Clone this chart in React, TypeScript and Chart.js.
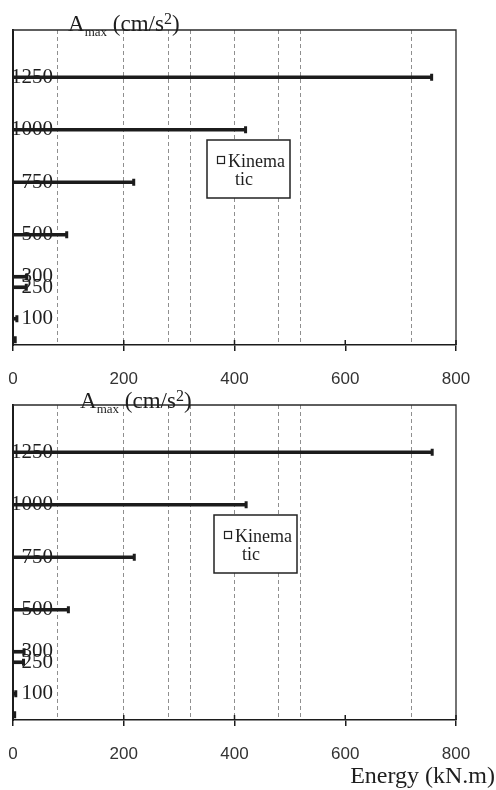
import React, { useEffect, useRef } from "react";
import { Chart, registerables } from "chart.js";

Chart.register(...registerables);

// ---- data ----
const amaxLevels = [1250, 1000, 750, 500, 300, 250, 100, 0];
const energyTop = [756, 420, 218, 97, 25, 24, 7, 4];
const energyBottom = [757, 421, 219, 100, 20, 19, 5, 3];
const amaxTickValues = [1250, 1000, 750, 500, 300, 250, 100];
const energyTickValues = [0, 200, 400, 600, 800];
const energyGuideValues = [80, 200, 280, 320, 400, 480, 520, 720];
const seriesLabel = "Kinematic";
const energyMin = 0;
const energyMax = 800;
const amaxMin = -25;
const amaxMax = 1475;

const INK = "#1c1c1c";

const framePlugin = {
  id: "frameCaps",
  afterDatasetsDraw(chart: any) {
    const { ctx, chartArea: a, scales } = chart;
    ctx.save();
    const meta = chart.getDatasetMeta(0);
    ctx.fillStyle = INK;
    meta.data.forEach((el: any) => {
      ctx.fillRect(el.x - 1.5, el.y - 3.5, 3, 7);
    });
    ctx.strokeStyle = "#2a2a2a";
    ctx.lineWidth = 1.3;
    ctx.beginPath();
    ctx.moveTo(a.left, a.top);
    ctx.lineTo(a.right, a.top);
    ctx.lineTo(a.right, a.bottom);
    ctx.stroke();
    const xs = scales.x;
    ctx.strokeStyle = INK;
    ctx.lineWidth = 1.5;
    xs.ticks.forEach((_t: any, i: number) => {
      const px = xs.getPixelForTick(i);
      ctx.beginPath();
      ctx.moveTo(px, a.bottom - 5);
      ctx.lineTo(px, a.bottom);
      ctx.stroke();
    });
    ctx.restore();
  },
};

const boxLegendPlugin = {
  id: "boxLegend",
  afterDraw(chart: any, _args: any, opts: any) {
    const { ctx, chartArea: a } = chart;
    const x = a.left + opts.dx;
    const y = a.top + opts.dy;
    ctx.save();
    ctx.fillStyle = "#ffffff";
    ctx.fillRect(x, y, opts.w, opts.h);
    ctx.strokeStyle = "#222";
    ctx.lineWidth = 1.5;
    ctx.strokeRect(x, y, opts.w, opts.h);
    ctx.lineWidth = 1.2;
    ctx.strokeRect(x + 10.5, y + 16.5, 7, 7);
    ctx.font = '18px "Liberation Serif"';
    ctx.fillStyle = "#1e1e1e";
    ctx.textBaseline = "alphabetic";
    const label: string = chart.data.datasets[0].label || "";
    const lines: string[] = [];
    let cur = "";
    for (const ch of label) {
      if (cur && ctx.measureText(cur + ch).width > opts.maxTextWidth) {
        lines.push(cur);
        cur = ch;
      } else cur += ch;
    }
    if (cur) lines.push(cur);
    lines.forEach((ln, i) => {
      ctx.fillText(ln, x + (i === 0 ? 21 : 28), y + 27 + i * 18);
    });
    ctx.restore();
  },
};

function makeConfig(values: number[], legendDx: number): any {
  return {
    type: "bar",
    data: {
      datasets: [
        {
          label: seriesLabel,
          data: amaxLevels.map((a, i) => ({ x: values[i], y: a })),
          backgroundColor: INK,
          borderWidth: 0,
          barThickness: 3,
          xAxisID: "x",
          yAxisID: "y",
        },
      ],
    },
    options: {
      responsive: false,
      animation: false,
      indexAxis: "y",
      layout: { padding: { left: 13, right: 40, top: 30, bottom: 0 } },
      plugins: {
        legend: { display: false },
        tooltip: { enabled: false },
        boxLegend: { dx: legendDx, dy: 110, w: 83, h: 58, maxTextWidth: 60 },
      },
      scales: {
        x: {
          type: "linear",
          axis: "x",
          position: "bottom",
          offset: false,
          min: energyMin,
          max: energyMax,
          afterBuildTicks: (s: any) => {
            s.ticks = energyTickValues.map((v) => ({ value: v }));
          },
          afterFit: (s: any) => {
            s.height = 50;
            s.paddingLeft = 0;
            s.paddingRight = 0;
          },
          grid: {
            offset: false,
            drawOnChartArea: false,
            drawTicks: true,
            tickLength: 6,
            color: INK,
            lineWidth: 1.5,
          },
          border: { display: true, color: INK, width: 1.5 },
          ticks: {
            padding: 18,
            autoSkip: false,
            maxRotation: 0,
            font: { family: "Liberation Sans", size: 17 },
            color: "#333",
            callback: (v: any) => String(v),
          },
        },
        xg: {
          type: "linear",
          axis: "x",
          position: "top",
          offset: false,
          min: energyMin,
          max: energyMax,
          afterBuildTicks: (s: any) => {
            s.ticks = energyGuideValues.map((v) => ({ value: v }));
          },
          afterFit: (s: any) => {
            s.height = 0;
            s.paddingLeft = 0;
            s.paddingRight = 0;
          },
          ticks: { display: false },
          grid: { offset: false, drawTicks: false, color: "#8f8f8f", lineWidth: 1 },
          border: { display: false, dash: [4, 3] },
        },
        y: {
          type: "linear",
          axis: "y",
          position: "left",
          offset: false,
          min: amaxMin,
          max: amaxMax,
          afterBuildTicks: (s: any) => {
            s.ticks = amaxTickValues.map((v) => ({ value: v }));
          },
          afterFit: (s: any) => {
            s.width = 0;
            s.paddingTop = 0;
            s.paddingBottom = 0;
          },
          grid: { offset: false, display: false, drawTicks: false },
          border: { display: true, color: INK, width: 2 },
          ticks: {
            mirror: true,
            crossAlign: "far",
            padding: -2,
            autoSkip: false,
            font: { family: "Liberation Serif", size: 21 },
            color: "#1e1e1e",
            callback: (v: any) => String(v),
          },
        },
      },
    },
    plugins: [framePlugin, boxLegendPlugin],
  };
}

function EnergyChart({ values, legendDx, top }: { values: number[]; legendDx: number; top: number }) {
  const ref = useRef<HTMLCanvasElement | null>(null);
  useEffect(() => {
    if (!ref.current) return;
    const chart = new Chart(ref.current, makeConfig(values, legendDx));
    return () => chart.destroy();
  }, []);
  return (
    <canvas
      ref={ref}
      width={496}
      height={395}
      style={{ position: "absolute", left: 0, top, width: 496, height: 395 }}
    />
  );
}

function AmaxTitle({ left, top }: { left: number; top: number }) {
  return (
    <div
      style={{
        position: "absolute",
        left,
        top,
        font: '23px "Liberation Serif"',
        lineHeight: "23px",
        whiteSpace: "nowrap",
        color: "#1e1e1e",
      }}
    >
      A<span style={{ fontSize: 13, position: "relative", top: 5 }}>max</span>
      {" "}(cm/s<span style={{ fontSize: 16, position: "relative", top: -7 }}>2</span>)
    </div>
  );
}

export default function App() {
  return (
    <div style={{ position: "absolute", left: 0, top: 0, width: 496, height: 790, background: "#fff", overflow: "hidden" }}>
      <EnergyChart values={energyTop} legendDx={194} top={0} />
      <EnergyChart values={energyBottom} legendDx={201} top={375} />
      <AmaxTitle left={68} top={12} />
      <AmaxTitle left={80} top={389} />
      <div
        style={{
          position: "absolute",
          right: 1,
          top: 763,
          font: '24px "Liberation Serif"',
          lineHeight: "24px",
          whiteSpace: "nowrap",
          color: "#1e1e1e",
        }}
      >
        Energy (kN.m)
      </div>
    </div>
  );
}
